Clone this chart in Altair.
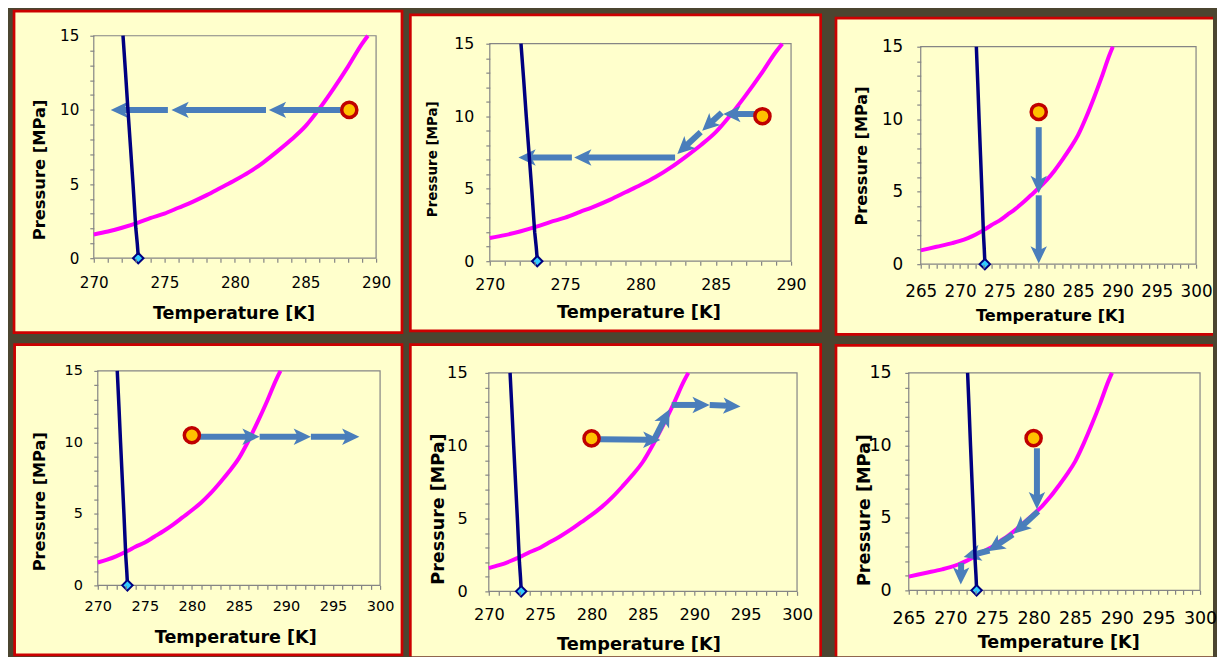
import math
import altair as alt
import pandas as pd

# ---------------- values ----------------
# methane-hydrate equilibrium curve (magenta)
hyd_T = [265, 267, 269, 270, 271, 272, 273.15, 274, 275, 276, 277, 278, 279, 280,
         281, 282, 283, 284, 285, 286, 287, 288, 289, 289.42]
hyd_P = [0.95, 1.2, 1.45, 1.6, 1.8, 2.05, 2.4, 2.7, 3.0, 3.4, 3.8, 4.25, 4.75, 5.25,
         5.8, 6.45, 7.2, 8.0, 8.9, 10.1, 11.45, 12.9, 14.45, 15.0]
# ice melting curve (navy)
melt_T = [273.16, 273.08, 272.98, 272.78, 272.6, 272.42, 272.25, 272.07]
melt_P = [0.0, 1.0, 2.0, 5.0, 7.5, 10.0, 12.5, 15.0]
# diamond marker on the T axis
tp_T = [273.15]
tp_P = [0.0]

# axis ranges of the six panels
x_lo = [270, 270, 265, 270, 270, 265]
x_hi = [290, 290, 300, 300, 300, 300]
y_lo = 0
y_hi = 15
x_title = "Temperature [K]"
y_title = "Pressure [MPa]"

# starting state (circle) of each panel
start_T = [288.1, 288.1, 280.0, 280.0, 280.0, 280.0]
start_P = [10.0, 10.0, 10.5, 10.5, 10.5, 10.5]

# arrows of each panel: (T from, P from, T to, P to)
arrows_1 = [(287.5, 10.0, 282.4, 10.0), (282.2, 10.0, 275.5, 10.0), (275.25, 10.0, 271.2, 10.0)]
arrows_2 = [(287.7, 10.15, 285.5, 10.15), (285.4, 10.25, 284.1, 9.0), (284.0, 8.9, 282.45, 7.4),
            (282.3, 7.15, 275.6, 7.15), (275.45, 7.15, 271.9, 7.15)]
arrows_3 = [(280.0, 9.45, 280.0, 4.9), (280.0, 4.75, 280.0, 0.05)]
arrows_4 = [(280.8, 10.4, 287.2, 10.4), (287.2, 10.4, 292.65, 10.4), (292.65, 10.4, 297.8, 10.4)]
arrows_5 = [(280.8, 10.45, 286.7, 10.4), (286.0, 10.3, 287.6, 12.5), (287.8, 12.8, 291.5, 12.8),
            (291.5, 12.8, 294.5, 12.7)]
arrows_6 = [(280.4, 9.8, 280.4, 5.6), (280.55, 5.45, 277.6, 3.9), (277.5, 3.85, 274.5, 2.7),
            (274.7, 2.75, 271.6, 2.3), (271.3, 1.9, 271.25, 0.4)]
ARROWS = [arrows_1, arrows_2, arrows_3, arrows_4, arrows_5, arrows_6]

# ---------------- layout / style (screen pixels) ----------------
COL = [(8, 407), (407, 830), (830, 1216)]
ROW = [(8, 339), (339, 657)]
PLOT = [(94, 35, 377, 258), (491, 43, 793, 261), (923, 46, 1199, 264),
        (98, 371, 381, 586), (490, 373, 799, 592), (911, 373, 1203, 591)]
FRAME = [(12.7, 9, 404.3, 334), (410, 12.7, 824, 332.3), (836.7, 16, None, 335.7),
         (13.3, 343.3, 404.3, 659), (410, 343.3, 824, None), (836.7, 344, None, None)]
XT_POS = [(234, 312.5), (640, 311.7), (1052.5, 315), (235.8, 637.5), (640, 644), (1060.8, 642.5)]
YT_POS = [(38.5, 169), (433, 158.3), (862.5, 155), (39, 501.7), (438.3, 509), (865.5, 510)]
LABEL_FS = [15.2, 15.8, 16.8, 14.5, 16.2, 17.5]
XT_FS = [17.6, 17.8, 16.2, 17.6, 17.8, 17.6]
YT_FS = [16.4, 13.5, 16.2, 16.2, 17.6, 17.7]
XLAB_PAD = [13.6, 12.2, 15.8, 10.6, 11.1, 15.4]
YLAB_PAD = [11, 12, 14, 11.3, 17.7, 13.7]
TICK = 4
BW = 2.7

FONT = "DejaVu Sans"
OLIVE = "#4b4530"
RED = "#cc0000"
YELLOW = "#ffffcc"
GRAY = "#858585"
MAGENTA = "#ff00ff"
NAVY = "#000080"
BLUE = "#4a7ebb"
ORANGE = "#ffc000"
DARKRED = "#c00000"
CYAN = "#33ccff"
HEAD = "M0,0 L-2,-0.95 L-1.5,0 L-2,0.95 Z"

one = pd.DataFrame({"k": [0]})
hyd_df = pd.DataFrame({"T": hyd_T, "P": hyd_P, "o": list(range(len(hyd_T)))})
melt_df = pd.DataFrame({"T": melt_T, "P": melt_P, "o": list(range(len(melt_T)))})
tp_df = pd.DataFrame({"T": tp_T, "P": tp_P})


def arrow_frame(arrows, kx, ky):
    rows = []
    for (t0, p0, t1, p1) in arrows:
        dx = (t1 - t0) * kx
        dy = -(p1 - p0) * ky
        n = math.hypot(dx, dy)
        ux, uy = dx / n, dy / n
        back = 12
        rows.append({"Ts": t0, "Ps": p0,
                     "Te": t1 - back * ux / kx, "Pe": p1 + back * uy / ky,
                     "Tt": t1, "Pt": p1,
                     "ang": math.degrees(math.atan2(uy, ux)) % 360})
    return pd.DataFrame(rows)


def panel(i):
    cx0, cx1 = COL[i % 3]
    cy0, cy1 = ROW[i // 3]
    Wc, Hc = cx1 - cx0, cy1 - cy0
    px0, py0, px1, py1 = PLOT[i]
    d0, d1 = x_lo[i], x_hi[i]
    kx = (px1 - px0) / (d1 - d0)
    ky = (py1 - py0) / (y_hi - y_lo)
    xa = d0 - (px0 - cx0) / kx
    xb = xa + Wc / kx
    yb = y_hi + (py0 - cy0) / ky
    ya = yb - Hc / ky
    xs = alt.Scale(domain=[xa, xb], nice=False, zero=False)
    ys = alt.Scale(domain=[ya, yb], nice=False, zero=False)

    lfs = LABEL_FS[i]
    xfs, yfs = XT_FS[i], YT_FS[i]
    xaxis = alt.Axis(
        values=list(range(d0, d1 + 1)),
        labelExpr="datum.value % 5 == 0 ? datum.label : ''",
        labelFlush=False, labelOverlap=False, grid=False, domain=False,
        offset=-(cy1 - py1), tickSize=TICK, tickColor=GRAY, tickWidth=1.2,
        labelPadding=XLAB_PAD[i], labelFont=FONT, labelFontSize=lfs, labelColor="black",
        title=x_title, titleFont=FONT, titleFontSize=xfs, titleFontWeight="bold",
        titleColor="black", titleAlign="center", titleBaseline="middle", titleAngle=0,
        titleX=XT_POS[i][0] - cx0, titleY=XT_POS[i][1] + 0.06 * xfs - py1, zindex=1)
    yaxis = alt.Axis(
        values=list(range(y_lo, y_hi + 1)),
        labelExpr="datum.value % 5 == 0 ? datum.label : ''",
        labelFlush=False, labelOverlap=False, grid=False, domain=False,
        offset=-(px0 - cx0), tickSize=TICK, tickColor=GRAY, tickWidth=1.2,
        labelPadding=YLAB_PAD[i], labelFont=FONT, labelFontSize=lfs, labelColor="black",
        title=y_title, titleFont=FONT, titleFontSize=yfs, titleFontWeight="bold",
        titleColor="black", titleAlign="center", titleBaseline="middle", titleAngle=270,
        titleX=YT_POS[i][0] + 0.06 * yfs - px0, titleY=YT_POS[i][1] - cy0, zindex=1)

    def X(f):
        return alt.X(f, scale=xs, axis=xaxis)

    def Y(f):
        return alt.Y(f, scale=ys, axis=yaxis)

    # frame
    fx0, fy0, fx1, fy1 = FRAME[i]
    ox0, oy0 = max(fx0, cx0), max(fy0, cy0)
    ox1 = cx1 if fx1 is None else min(fx1, cx1)
    oy1 = cy1 if fy1 is None else min(fy1, cy1)
    ix0, iy0 = ox0 + BW, oy0 + BW
    ix1 = cx1 if fx1 is None else ox1 - BW
    iy1 = cy1 if fy1 is None else oy1 - BW

    def vrect(a, b, c, d, col):
        return alt.Chart(one).mark_rect(color=col, strokeWidth=0, opacity=1).encode(
            x=alt.value(a - cx0), x2=alt.value(c - cx0),
            y=alt.value(b - cy0), y2=alt.value(d - cy0))

    outer = vrect(ox0, oy0, ox1, oy1, RED)
    inner = vrect(ix0, iy0, ix1, iy1, YELLOW)

    box_df = pd.DataFrame({"T": [d0], "T1": [d1], "P": [y_lo], "P1": [y_hi]})
    border = alt.Chart(box_df).mark_rect(fillOpacity=0, stroke=GRAY, strokeWidth=1.2).encode(
        x=X("T:Q"), x2="T1:Q", y=Y("P:Q"), y2="P1:Q")

    hyd = alt.Chart(hyd_df).transform_filter(
        f"datum.T >= {d0} && datum.T <= {d1}").mark_line(
        color=MAGENTA, strokeWidth=4, interpolate="monotone").encode(
        x=X("T:Q"), y=Y("P:Q"), order="o:Q")
    melt = alt.Chart(melt_df).mark_line(color=NAVY, strokeWidth=3.5).encode(
        x=X("T:Q"), y=Y("P:Q"), order="o:Q")

    adf = arrow_frame(ARROWS[i], kx, ky)
    shafts = alt.Chart(adf).mark_rule(color=BLUE, strokeWidth=6, strokeCap="butt").encode(
        x=X("Ts:Q"), y=Y("Ps:Q"), x2="Te:Q", y2="Pe:Q")
    heads = alt.Chart(adf).mark_point(shape=HEAD, filled=True, color=BLUE, opacity=1,
                                      size=300, strokeWidth=0).encode(
        x=X("Tt:Q"), y=Y("Pt:Q"), angle=alt.Angle("ang:Q", scale=None))

    sdf = pd.DataFrame({"T": [start_T[i]], "P": [start_P[i]]})
    circ = alt.Chart(sdf).mark_point(shape="circle", filled=True, fill=ORANGE, stroke=DARKRED,
                                     strokeWidth=3.5, size=230, opacity=1).encode(
        x=X("T:Q"), y=Y("P:Q"))
    diam = alt.Chart(tp_df).mark_point(shape="diamond", filled=True, fill=CYAN, stroke=NAVY,
                                       strokeWidth=2, size=110, opacity=1).encode(
        x=X("T:Q"), y=Y("P:Q"))

    return alt.layer(outer, inner, border, hyd, shafts, heads, melt, circ, diam).properties(
        width=Wc, height=Hc)


panels = [panel(i) for i in range(6)]
chart = alt.concat(*panels, columns=3, spacing=0, bounds="flush").properties(
    padding=0, background=OLIVE).configure_view(strokeWidth=0)

chart.save("out.html", embed_options={"renderer": "svg", "actions": False})
